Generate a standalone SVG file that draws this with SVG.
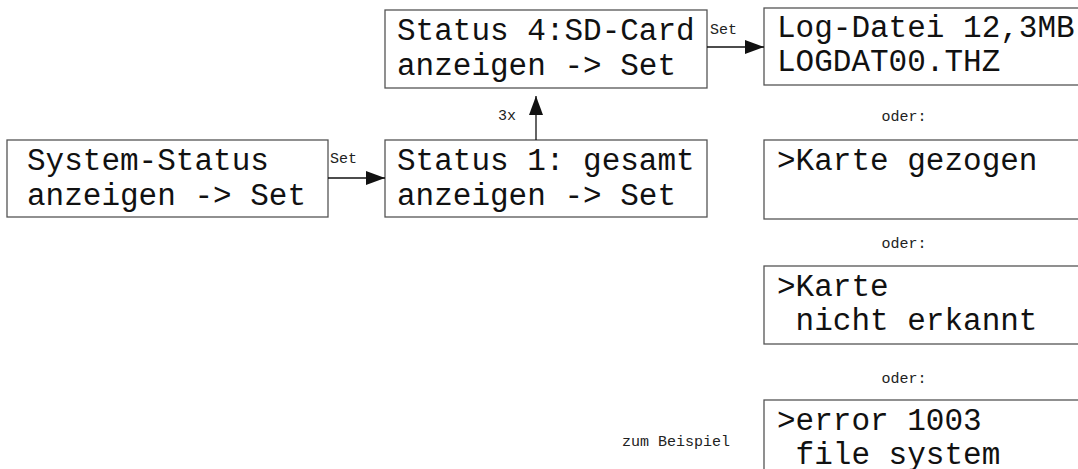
<svg xmlns="http://www.w3.org/2000/svg" width="1078" height="469" viewBox="0 0 1078 469">
<style>
.box{fill:#fff;stroke:#555;stroke-width:1.3}
.t{font-family:"Liberation Mono",monospace;font-size:31px;fill:#111}
.s{font-family:"Liberation Mono",monospace;font-size:15px;fill:#222}
.c{stroke:#111;stroke-width:1.3;fill:none}
</style>
<defs>
<marker id="a" markerWidth="20" markerHeight="14" refX="19" refY="7" orient="auto" markerUnits="userSpaceOnUse">
<path d="M0,0 L19,7 L0,14 Z" fill="#111"/>
</marker>
</defs>
<rect width="1078" height="469" fill="#fff"/>
<g id="n-system">
<rect class="box" x="7" y="140" width="321" height="77"/>
<text class="t" x="27" y="170">System-Status</text>
<text class="t" x="27" y="205">anzeigen -&gt; Set</text>
</g>
<g id="n-status1">
<rect class="box" x="385" y="140" width="322" height="77"/>
<text class="t" x="397" y="170">Status 1: gesamt</text>
<text class="t" x="397" y="205">anzeigen -&gt; Set</text>
</g>
<g id="n-status4">
<rect class="box" x="385" y="10" width="322" height="78"/>
<text class="t" x="397" y="40">Status 4:SD-Card</text>
<text class="t" x="397" y="75">anzeigen -&gt; Set</text>
</g>
<g id="n-log">
<rect class="box" x="764" y="8" width="330" height="77"/>
<text class="t" x="777" y="37">Log-Datei 12,3MB</text>
<text class="t" x="777" y="71">LOGDAT00.THZ</text>
</g>
<g id="n-gezogen">
<rect class="box" x="764" y="140" width="330" height="79"/>
<text class="t" x="777" y="170">&gt;Karte gezogen</text>
</g>
<g id="n-erkannt">
<rect class="box" x="764" y="266" width="330" height="78"/>
<text class="t" x="777" y="296">&gt;Karte</text>
<text class="t" x="777" y="330" xml:space="preserve"> nicht erkannt</text>
</g>
<g id="n-error">
<rect class="box" x="764" y="400" width="330" height="90"/>
<text class="t" x="777" y="430">&gt;error 1003</text>
<text class="t" x="777" y="464" xml:space="preserve"> file system</text>
</g>
<g id="labels">
<text class="s" x="904" y="121" text-anchor="middle">oder:</text>
<text class="s" x="904" y="248" text-anchor="middle">oder:</text>
<text class="s" x="904" y="383" text-anchor="middle">oder:</text>
<text class="s" x="622" y="446">zum Beispiel</text>
</g>
<g id="connectors">
<line class="c" x1="328" y1="178" x2="385" y2="178" marker-end="url(#a)"/>
<text class="s" x="330" y="163">Set</text>
<line class="c" x1="536" y1="140" x2="536" y2="96" marker-end="url(#a)"/>
<text class="s" x="498" y="120">3x</text>
<line class="c" x1="707" y1="47" x2="764" y2="47" marker-end="url(#a)"/>
<text class="s" x="710" y="34">Set</text>
</g>
</svg>
